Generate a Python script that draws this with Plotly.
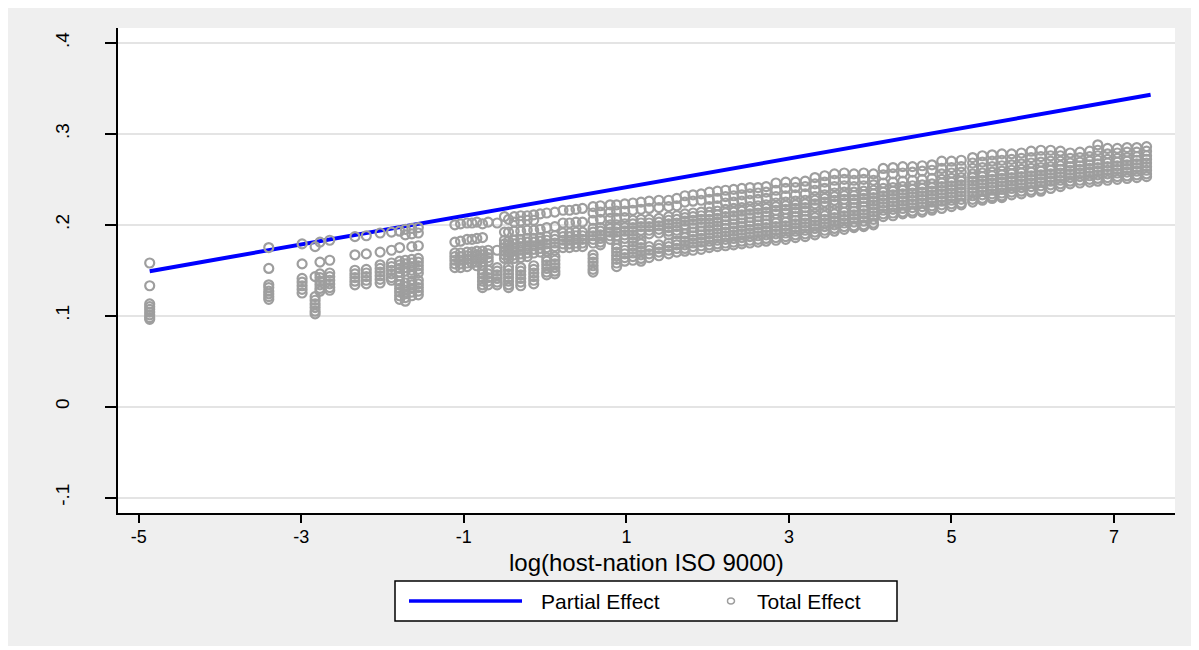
import plotly.graph_objects as go

# ---------------- data ----------------
partial_x = [-4.865, 7.45]
partial_y = [0.149, 0.343]

# Total effect: columns of points (x position, list of y values)
cols_x = [
    -4.865, -3.40, -2.99, -2.83, -2.77, -2.65, -2.34, -2.20, -2.03, -1.89,
    -1.79, -1.72, -1.64, -1.56,
    -1.11, -1.04, -0.96, -0.90, -0.84, -0.77, -0.70, -0.59, -0.50, -0.45,
    -0.38, -0.30, -0.22, -0.14, -0.06, 0.02, 0.12, 0.22, 0.30, 0.38, 0.46,
    0.59, 0.68, 0.80, 0.88, 0.98, 1.08, 1.18, 1.28, 1.40, 1.52, 1.62, 1.72,
    1.82, 1.92,
    2.02, 2.12, 2.22, 2.32, 2.42, 2.52, 2.62, 2.72, 2.84, 2.96, 3.08, 3.20,
    3.32, 3.44, 3.56, 3.68, 3.80, 3.92, 4.04,
    4.16, 4.28, 4.40, 4.52, 4.64, 4.76, 4.88,
    5.00, 5.12, 5.26, 5.38, 5.50, 5.62, 5.74, 5.86, 5.98, 6.10, 6.22, 6.34,
    6.46, 6.58, 6.70, 6.80, 6.92, 7.04, 7.16, 7.28, 7.40,
]
cols_y = [
    [0.158, 0.133, 0.113, 0.110, 0.107, 0.104, 0.101, 0.098, 0.096],
    [0.175, 0.152, 0.134, 0.131, 0.127, 0.124, 0.121, 0.118],
    [0.179, 0.157, 0.141, 0.137, 0.133, 0.129, 0.125],
    [0.176, 0.143, 0.121, 0.117, 0.113, 0.109, 0.105, 0.102],
    [0.181, 0.159, 0.146, 0.142, 0.138, 0.134, 0.130, 0.127],
    [0.183, 0.161, 0.147, 0.143, 0.139, 0.135, 0.131, 0.128],
    [0.187, 0.167, 0.150, 0.146, 0.142, 0.138, 0.134],
    [0.188, 0.168, 0.151, 0.147, 0.143, 0.139, 0.135],
    [0.191, 0.170, 0.156, 0.152, 0.148, 0.144, 0.140, 0.136],
    [0.192, 0.172, 0.158, 0.154, 0.150, 0.146, 0.142, 0.139],
    [0.193, 0.175, 0.160, 0.156, 0.152, 0.148, 0.144, 0.138, 0.134, 0.130, 0.126, 0.122, 0.118],
    [0.195, 0.189, 0.161, 0.157, 0.153, 0.149, 0.136, 0.132, 0.128, 0.124, 0.120, 0.116],
    [0.196, 0.190, 0.176, 0.162, 0.158, 0.154, 0.150, 0.146, 0.138, 0.134, 0.130, 0.126, 0.122],
    [0.197, 0.191, 0.177, 0.163, 0.159, 0.155, 0.151, 0.147, 0.139, 0.135, 0.131, 0.127, 0.123],
    [0.200, 0.181, 0.169, 0.165, 0.161, 0.157, 0.153],
    [0.201, 0.182, 0.169, 0.165, 0.161, 0.157, 0.153],
    [0.202, 0.184, 0.170, 0.166, 0.162, 0.158, 0.154],
    [0.202, 0.184, 0.170, 0.166, 0.162, 0.158],
    [0.203, 0.185, 0.171, 0.167, 0.163, 0.159, 0.155],
    [0.201, 0.186, 0.171, 0.167, 0.163, 0.159, 0.155, 0.150, 0.146, 0.142, 0.138, 0.134, 0.131],
    [0.203, 0.172, 0.168, 0.164, 0.160, 0.150, 0.146, 0.142, 0.138, 0.134],
    [0.202, 0.172, 0.153, 0.149, 0.145, 0.141, 0.137, 0.134],
    [0.209, 0.192, 0.183, 0.179, 0.175, 0.171, 0.167, 0.163],
    [0.206, 0.192, 0.182, 0.178, 0.174, 0.170, 0.166, 0.162, 0.154, 0.150, 0.146, 0.142, 0.138, 0.134, 0.131],
    [0.209, 0.203, 0.193, 0.183, 0.179, 0.175, 0.171, 0.167, 0.163],
    [0.210, 0.204, 0.193, 0.184, 0.180, 0.176, 0.172, 0.168, 0.164, 0.153, 0.149, 0.145, 0.141, 0.137, 0.133],
    [0.210, 0.205, 0.194, 0.185, 0.181, 0.177, 0.173, 0.169, 0.165],
    [0.211, 0.205, 0.194, 0.185, 0.181, 0.177, 0.173, 0.169, 0.155, 0.151, 0.147, 0.143, 0.139, 0.135],
    [0.212, 0.195, 0.186, 0.182, 0.178, 0.174, 0.170],
    [0.213, 0.197, 0.187, 0.183, 0.179, 0.175, 0.171, 0.164, 0.160, 0.156, 0.152, 0.148, 0.145],
    [0.214, 0.198, 0.188, 0.184, 0.180, 0.176, 0.172, 0.165, 0.161, 0.157, 0.153, 0.149, 0.146],
    [0.216, 0.202, 0.191, 0.187, 0.183, 0.179, 0.175],
    [0.216, 0.202, 0.191, 0.187, 0.183, 0.179, 0.175],
    [0.217, 0.203, 0.192, 0.188, 0.184, 0.180, 0.176],
    [0.218, 0.203, 0.192, 0.188, 0.184, 0.180, 0.176],
    [0.220, 0.213, 0.205, 0.196, 0.192, 0.188, 0.184, 0.180, 0.167, 0.163, 0.159, 0.155, 0.151, 0.148],
    [0.221, 0.214, 0.206, 0.197, 0.193, 0.189, 0.185, 0.181, 0.178],
    [0.222, 0.214, 0.207, 0.200, 0.196, 0.192, 0.188, 0.184],
    [0.222, 0.215, 0.207, 0.200, 0.196, 0.192, 0.188, 0.184, 0.178, 0.174, 0.170, 0.166, 0.162, 0.158, 0.154],
    [0.223, 0.215, 0.208, 0.201, 0.197, 0.193, 0.189, 0.185, 0.172, 0.168, 0.164, 0.160],
    [0.224, 0.216, 0.205, 0.201, 0.197, 0.193, 0.189, 0.185, 0.181, 0.177, 0.173, 0.169, 0.165, 0.161],
    [0.225, 0.217, 0.206, 0.202, 0.198, 0.194, 0.190, 0.183, 0.179, 0.175, 0.171, 0.167, 0.163, 0.160],
    [0.226, 0.218, 0.206, 0.202, 0.198, 0.194, 0.190, 0.176, 0.172, 0.168, 0.164],
    [0.227, 0.219, 0.207, 0.203, 0.199, 0.195, 0.191, 0.178, 0.174, 0.170, 0.166],
    [0.227, 0.220, 0.209, 0.205, 0.201, 0.197, 0.193, 0.189, 0.180, 0.176, 0.172, 0.168],
    [0.229, 0.221, 0.210, 0.206, 0.202, 0.198, 0.194, 0.190, 0.182, 0.178, 0.174, 0.170],
    [0.232, 0.225, 0.212, 0.208, 0.204, 0.200, 0.196, 0.190, 0.186, 0.182, 0.178, 0.174, 0.171],
    [0.233, 0.226, 0.213, 0.209, 0.205, 0.201, 0.197, 0.192, 0.188, 0.184, 0.180, 0.176, 0.172],
    [0.234, 0.227, 0.214, 0.210, 0.206, 0.202, 0.198, 0.193, 0.189, 0.185, 0.181, 0.177, 0.173],
    [0.236, 0.228, 0.220, 0.214, 0.210, 0.206, 0.202, 0.198, 0.194, 0.190, 0.186, 0.182, 0.178, 0.175],
    [0.237, 0.229, 0.221, 0.215, 0.211, 0.207, 0.203, 0.199, 0.195, 0.191, 0.187, 0.183, 0.179, 0.176],
    [0.238, 0.231, 0.224, 0.217, 0.213, 0.209, 0.205, 0.200, 0.196, 0.192, 0.188, 0.184, 0.180, 0.177],
    [0.239, 0.232, 0.225, 0.218, 0.214, 0.210, 0.206, 0.201, 0.197, 0.193, 0.189, 0.185, 0.181, 0.178],
    [0.240, 0.233, 0.226, 0.219, 0.215, 0.211, 0.207, 0.202, 0.198, 0.194, 0.190, 0.186, 0.182, 0.179],
    [0.241, 0.234, 0.227, 0.220, 0.216, 0.212, 0.208, 0.203, 0.199, 0.195, 0.191, 0.187, 0.183, 0.180],
    [0.241, 0.235, 0.228, 0.221, 0.217, 0.213, 0.209, 0.204, 0.200, 0.196, 0.192, 0.188, 0.184, 0.181],
    [0.242, 0.236, 0.229, 0.222, 0.218, 0.214, 0.210, 0.205, 0.201, 0.197, 0.193, 0.189, 0.185, 0.182],
    [0.246, 0.238, 0.231, 0.224, 0.220, 0.216, 0.212, 0.206, 0.202, 0.198, 0.194, 0.190, 0.186, 0.183],
    [0.247, 0.240, 0.232, 0.225, 0.221, 0.217, 0.213, 0.207, 0.203, 0.199, 0.195, 0.191, 0.187, 0.184],
    [0.247, 0.241, 0.233, 0.226, 0.222, 0.218, 0.214, 0.209, 0.205, 0.201, 0.197, 0.193, 0.189, 0.186],
    [0.248, 0.242, 0.234, 0.227, 0.223, 0.219, 0.215, 0.210, 0.206, 0.202, 0.198, 0.194, 0.190, 0.187],
    [0.252, 0.245, 0.238, 0.231, 0.227, 0.223, 0.219, 0.212, 0.208, 0.204, 0.200, 0.196, 0.192, 0.189],
    [0.254, 0.247, 0.240, 0.233, 0.229, 0.225, 0.221, 0.214, 0.210, 0.206, 0.202, 0.198, 0.194, 0.191],
    [0.256, 0.249, 0.242, 0.235, 0.231, 0.227, 0.223, 0.216, 0.212, 0.208, 0.204, 0.200, 0.196, 0.193],
    [0.257, 0.250, 0.243, 0.236, 0.232, 0.228, 0.224, 0.218, 0.214, 0.210, 0.206, 0.202, 0.198, 0.195],
    [0.256, 0.249, 0.242, 0.236, 0.232, 0.228, 0.224, 0.219, 0.215, 0.211, 0.207, 0.203, 0.199, 0.197],
    [0.257, 0.250, 0.243, 0.237, 0.233, 0.229, 0.225, 0.220, 0.216, 0.212, 0.208, 0.204, 0.200, 0.198],
    [0.256, 0.249, 0.244, 0.238, 0.234, 0.230, 0.226, 0.222, 0.218, 0.214, 0.210, 0.206, 0.202, 0.200],
    [0.262, 0.255, 0.246, 0.240, 0.236, 0.232, 0.228, 0.224, 0.220, 0.216, 0.212, 0.209],
    [0.263, 0.256, 0.247, 0.241, 0.237, 0.233, 0.229, 0.225, 0.221, 0.217, 0.213, 0.210],
    [0.264, 0.257, 0.248, 0.242, 0.238, 0.234, 0.230, 0.226, 0.222, 0.218, 0.214, 0.212],
    [0.264, 0.258, 0.249, 0.243, 0.239, 0.235, 0.231, 0.227, 0.223, 0.219, 0.215, 0.213],
    [0.265, 0.259, 0.250, 0.244, 0.240, 0.236, 0.232, 0.228, 0.224, 0.220, 0.216, 0.214],
    [0.266, 0.260, 0.251, 0.245, 0.241, 0.237, 0.233, 0.229, 0.225, 0.221, 0.218, 0.216],
    [0.270, 0.262, 0.256, 0.250, 0.246, 0.242, 0.238, 0.234, 0.230, 0.226, 0.222, 0.218],
    [0.270, 0.263, 0.257, 0.251, 0.247, 0.243, 0.239, 0.235, 0.231, 0.227, 0.223, 0.220],
    [0.271, 0.264, 0.258, 0.252, 0.248, 0.244, 0.240, 0.236, 0.232, 0.228, 0.224, 0.222],
    [0.274, 0.268, 0.262, 0.256, 0.252, 0.248, 0.244, 0.240, 0.236, 0.232, 0.228, 0.225],
    [0.276, 0.269, 0.263, 0.257, 0.253, 0.249, 0.245, 0.241, 0.237, 0.233, 0.229, 0.227],
    [0.277, 0.270, 0.264, 0.258, 0.254, 0.250, 0.246, 0.242, 0.238, 0.234, 0.231, 0.229],
    [0.278, 0.271, 0.265, 0.259, 0.255, 0.251, 0.247, 0.243, 0.239, 0.235, 0.232, 0.230],
    [0.278, 0.272, 0.266, 0.260, 0.256, 0.252, 0.248, 0.244, 0.240, 0.236, 0.233],
    [0.279, 0.273, 0.267, 0.261, 0.257, 0.253, 0.249, 0.245, 0.241, 0.237, 0.234],
    [0.281, 0.274, 0.268, 0.262, 0.258, 0.254, 0.250, 0.246, 0.242, 0.238, 0.236],
    [0.282, 0.275, 0.269, 0.263, 0.259, 0.255, 0.251, 0.247, 0.243, 0.239, 0.237],
    [0.282, 0.276, 0.270, 0.264, 0.260, 0.256, 0.252, 0.248, 0.244, 0.240],
    [0.281, 0.276, 0.270, 0.265, 0.261, 0.257, 0.253, 0.249, 0.245, 0.242],
    [0.279, 0.273, 0.268, 0.264, 0.260, 0.256, 0.252, 0.248, 0.245],
    [0.280, 0.274, 0.269, 0.265, 0.261, 0.257, 0.253, 0.249, 0.246],
    [0.281, 0.275, 0.270, 0.266, 0.262, 0.258, 0.254, 0.250, 0.247],
    [0.288, 0.282, 0.276, 0.271, 0.267, 0.263, 0.259, 0.255, 0.251, 0.248],
    [0.284, 0.278, 0.272, 0.268, 0.264, 0.260, 0.256, 0.252, 0.249],
    [0.284, 0.279, 0.273, 0.269, 0.265, 0.261, 0.257, 0.253, 0.250],
    [0.285, 0.280, 0.274, 0.270, 0.266, 0.262, 0.258, 0.254, 0.251],
    [0.285, 0.280, 0.275, 0.271, 0.267, 0.263, 0.259, 0.255, 0.252],
    [0.286, 0.281, 0.276, 0.272, 0.268, 0.264, 0.260, 0.256, 0.253],
]

x_tickvals = [-5, -3, -1, 1, 3, 5, 7]
x_ticktext = ["-5", "-3", "-1", "1", "3", "5", "7"]
y_tickvals = [-0.1, 0, 0.1, 0.2, 0.3, 0.4]
y_ticktext = ["-.1", "0", ".1", ".2", ".3", ".4"]

x_title = "log(host-nation ISO 9000)"
legend_names = ["Partial Effect", "Total Effect"]

total_x = [cx for cx, ys in zip(cols_x, cols_y) for _ in ys]
total_y = [v for ys in cols_y for v in ys]

# ---------------- layout geometry ----------------
W, H = 1186, 638
ML, MT = 110, 20
PW, PH = 1057, 485
MR = W - ML - PW
MB = H - MT - PH

def pxx(fx):
    return (fx - ML) / PW

def pxy(fy):
    return 1 - (fy - MT) / PH

FONT = "Liberation Sans, Arial, Helvetica, sans-serif"
GRAY = "#9e9e9e"
BLUE = "#0000ff"

fig = go.Figure()
fig.add_trace(go.Scatter(
    x=partial_x, y=partial_y, mode="lines", name=legend_names[0],
    line=dict(color=BLUE, width=4), showlegend=False, hoverinfo="skip",
))
fig.add_trace(go.Scatter(
    x=total_x, y=total_y, mode="markers", name=legend_names[1],
    marker=dict(symbol="circle-open", size=9, color=GRAY,
                line=dict(color=GRAY, width=2.2)),
    showlegend=False,
))

# manual legend (Stata style)
leg_y = 593
shapes = [
    dict(type="rect", xref="paper", yref="paper",
         x0=pxx(387), x1=pxx(889), y0=pxy(613), y1=pxy(573),
         fillcolor="white", line=dict(color="black", width=1.5), layer="above"),
    dict(type="line", xref="paper", yref="paper",
         x0=pxx(401), x1=pxx(514), y0=pxy(leg_y), y1=pxy(leg_y),
         line=dict(color=BLUE, width=3.5), layer="above"),
    dict(type="circle", xref="paper", yref="paper",
         x0=pxx(719.5), x1=pxx(726.5), y0=pxy(596), y1=pxy(590),
         line=dict(color=GRAY, width=1.5), fillcolor="rgba(0,0,0,0)", layer="above"),
]
annotations = [
    dict(text=x_title, xref="paper", yref="paper", x=0.5, y=pxy(554),
         xanchor="center", yanchor="middle", showarrow=False,
         font=dict(family=FONT, size=24, color="black")),
    dict(text=legend_names[0], xref="paper", yref="paper", x=pxx(531), y=pxy(leg_y),
         xanchor="left", yanchor="middle", showarrow=False,
         font=dict(family=FONT, size=21, color="black")),
    dict(text=legend_names[1], xref="paper", yref="paper", x=pxx(747), y=pxy(leg_y),
         xanchor="left", yanchor="middle", showarrow=False,
         font=dict(family=FONT, size=21, color="black")),
]

fig.update_layout(
    width=W, height=H,
    margin=dict(l=ML, r=MR, t=MT, b=MB, pad=0),
    paper_bgcolor="#efefef",
    plot_bgcolor="white",
    font=dict(family=FONT, size=18, color="black"),
    shapes=shapes,
    annotations=annotations,
    showlegend=False,
)
fig.update_xaxes(
    range=[-5.255, 7.75], tickvals=x_tickvals, ticktext=x_ticktext,
    showgrid=False, zeroline=False, showline=True, linecolor="black", linewidth=2,
    ticks="outside", ticklen=8, tickwidth=2, tickcolor="black",
    ticklabelstandoff=-2,
    tickfont=dict(family=FONT, size=18, color="black"),
)
fig.update_yaxes(
    range=[-0.117, 0.4165], tickvals=y_tickvals, ticktext=y_ticktext,
    showgrid=True, gridcolor="#e4e4e4", gridwidth=1.5, zeroline=False,
    showline=True, linecolor="black", linewidth=2,
    ticks="outside", ticklen=11, tickwidth=2, tickcolor="black", tickangle=-90,
    ticklabelstandoff=28,
    tickfont=dict(family=FONT, size=19, color="black"),
)

fig.write_html("out.html")
